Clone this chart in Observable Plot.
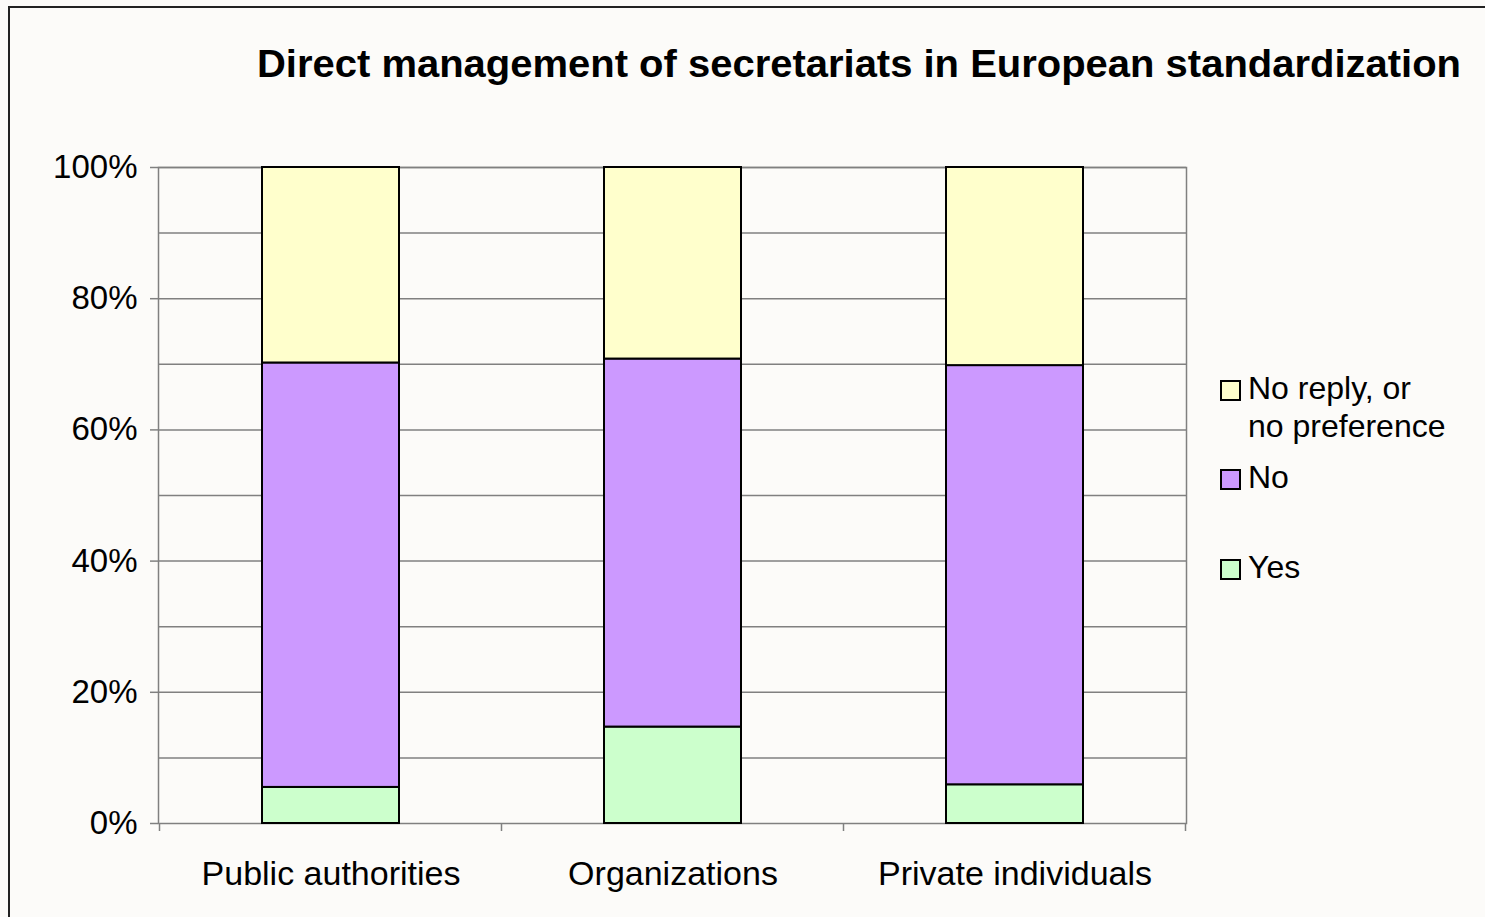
<!DOCTYPE html>
<html><head><meta charset="utf-8">
<script src="https://cdn.jsdelivr.net/npm/d3@7"></script>
<script src="https://cdn.jsdelivr.net/npm/@observablehq/plot@0.6"></script>
<style>
body{margin:0;background:#fcfbf9;}
#wrap{position:relative;width:1485px;height:917px;background:#fcfbf9;overflow:hidden;font-family:Arial,"Liberation Sans",sans-serif;color:#000;}
#border{position:absolute;left:8px;top:6px;width:1500px;height:940px;border:2px solid #222;box-sizing:border-box;}
#title{position:absolute;left:0;top:45px;width:1718px;text-align:center;font-weight:bold;font-size:38px;line-height:1;white-space:nowrap;transform:scaleX(1.052);transform-origin:859px 0;}
#chart{position:absolute;left:0;top:0;}
.leg{position:absolute;left:1220px;font-size:32px;line-height:38px;}
.leg .sw{position:absolute;left:0;top:11px;width:21px;height:21px;border:2px solid #000;box-sizing:border-box;}
.leg .tx{position:absolute;left:28px;top:0;white-space:nowrap;}
</style></head>
<body>
<div id="wrap">
  <div id="border"></div>
  <div id="title"></div>
  <div id="chart"></div>
</div>
<script>
const title = "Direct management of secretariats in European standardization";
const categories = ["Public authorities", "Organizations", "Private individuals"];
const series = ["Yes", "No", "No reply, or no preference"];
const seriesLegendLines = [["Yes"], ["No"], ["No reply, or", "no preference"]];
const colors = ["#CCFFCC", "#CC99FF", "#FFFFCC"];
const yesValues = [5.5, 14.7, 5.9];
const noValues = [64.7, 56.1, 63.9];
const noReplyValues = [29.8, 29.2, 30.2];
const yTickLabels = [0, 20, 40, 60, 80, 100];
const yGridValues = [10, 20, 30, 40, 50, 60, 70, 80, 90, 100];

const valueSets = [yesValues, noValues, noReplyValues];
const data = [];
series.forEach((s, si) => categories.forEach((c, ci) => data.push({category: c, series: s, value: valueSets[si][ci]})));

document.getElementById("title").textContent = title;

const font = "Arial, 'Liberation Sans', sans-serif";
const chart = Plot.plot({
  width: 1485, height: 917,
  marginLeft: 158, marginRight: 299, marginTop: 167, marginBottom: 94,
  style: {background: "transparent", fontFamily: font, fontSize: "33px", color: "#000", overflow: "visible"},
  x: {domain: categories, paddingInner: 0.6, paddingOuter: 0.3, label: null},
  y: {domain: [0, 100], label: null},
  color: {domain: series, range: colors},
  marks: [
    Plot.gridY(yGridValues, {stroke: "#808080", strokeOpacity: 1, strokeWidth: 1.5}),
    Plot.frame({stroke: "#808080", strokeWidth: 1.5}),
    Plot.barY(data, {x: "category", y: "value", fill: "series", z: "series", order: series, stroke: "#000", strokeWidth: 2}),
    Plot.axisY(yTickLabels, {tickFormat: d => d + "%", tickSize: 8, tickPadding: 13, stroke: "#808080", strokeWidth: 1.5, fill: "#000", fontSize: 33}),
    Plot.axisX({tickSize: 0, tickPadding: 37, fill: "#000", fontSize: 34})
  ]
});
document.getElementById("chart").appendChild(chart);

// x-axis tick marks at category boundaries
const xs = chart.scale("x"), ys = chart.scale("y");
const gap = (xs.step - xs.bandwidth) / 2;
const bounds = categories.map(c => xs.apply(c) - gap).concat([xs.apply(categories[categories.length - 1]) + xs.bandwidth + gap]);
const y0 = ys.apply(0);
d3.select(chart).append("g").selectAll("line").data(bounds).join("line")
  .attr("x1", d => d).attr("x2", d => d).attr("y1", y0).attr("y2", y0 + 8)
  .attr("stroke", "#808080").attr("stroke-width", 1.5);

// legend (top to bottom: reversed series order)
const legendTops = [369, 458, 548];
const wrap = document.getElementById("wrap");
[2, 1, 0].forEach((si, i) => {
  const item = document.createElement("div");
  item.className = "leg";
  item.style.top = legendTops[i] + "px";
  const sw = document.createElement("div");
  sw.className = "sw"; sw.style.background = colors[si];
  const tx = document.createElement("div");
  tx.className = "tx"; tx.innerHTML = seriesLegendLines[si].join("<br>");
  item.appendChild(sw); item.appendChild(tx);
  wrap.appendChild(item);
});
</script>
</body></html>
